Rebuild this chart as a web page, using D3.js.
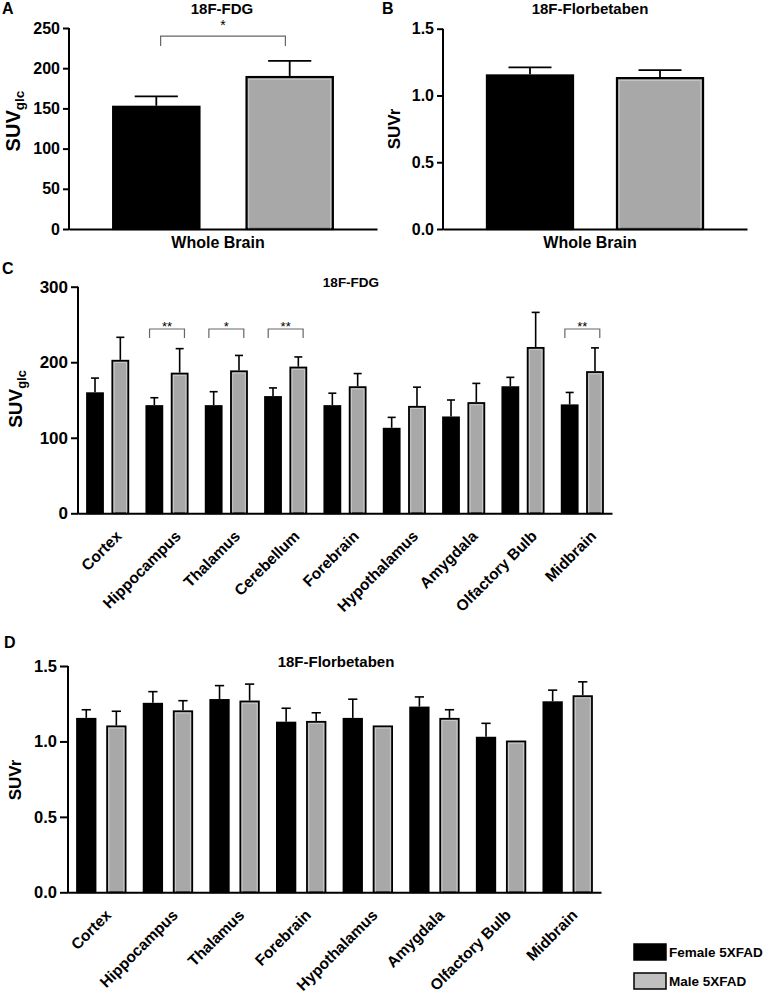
<!DOCTYPE html>
<html>
<head>
<meta charset="utf-8">
<script src="https://cdn.jsdelivr.net/npm/d3@7"></script>
<style>
  body { margin: 0; background: #fff; }
  svg text { font-family: "Liberation Sans", Arial, sans-serif; font-weight: bold; fill: #000; }
</style>
</head>
<body>
<div id="chart"></div>
<script>
// ---- data ----
var series = ["Female 5XFAD", "Male 5XFAD"];

var wholeBrain = ["Whole Brain"];
var fdgWhole = [152, 189];
var fdgWholeErr = [13, 20];
var fbbWhole = [1.15, 1.13];
var fbbWholeErr = [0.06, 0.06];

var regionsC = ["Cortex", "Hippocampus", "Thalamus", "Cerebellum", "Forebrain",
                "Hypothalamus", "Amygdala", "Olfactory Bulb", "Midbrain"];
var fdgFemale    = [159, 142, 142, 154, 142, 112, 127, 167, 143];
var fdgFemaleErr = [20, 11, 19, 12, 17, 15, 23, 13, 17];
var fdgMale      = [202, 185, 188, 193, 167, 141, 146, 219, 187];
var fdgMaleErr   = [31, 33, 21, 14, 18, 26, 26, 47, 32];

var regionsD = ["Cortex", "Hippocampus", "Thalamus", "Forebrain",
                "Hypothalamus", "Amygdala", "Olfactory Bulb", "Midbrain"];
var fbbFemale    = [1.15, 1.25, 1.275, 1.125, 1.15, 1.225, 1.025, 1.26];
var fbbFemaleErr = [0.06, 0.08, 0.095, 0.095, 0.13, 0.07, 0.095, 0.08];
var fbbMale      = [1.10, 1.20, 1.265, 1.13, 1.10, 1.15, 1.00, 1.30];
var fbbMaleErr   = [0.10, 0.07, 0.115, 0.06, 0, 0.06, 0, 0.095];

var ticksFdgA = [0, 50, 100, 150, 200, 250];
var ticksFdgC = [0, 100, 200, 300];
var ticksFbb  = [0, 0.5, 1.0, 1.5];

var sigA = [{group: "Whole Brain", label: "*"}];
var sigC = [{group: "Hippocampus", label: "**"}, {group: "Thalamus", label: "*"},
            {group: "Cerebellum", label: "**"}, {group: "Midbrain", label: "**"}];

var fills = {"Female 5XFAD": "#000", "Male 5XFAD": "#a8a8a8"};

var svg = d3.select("#chart").append("svg")
    .attr("width", 765)
    .attr("height", 998);

function panel(cfg) {
    var g = svg.append("g");

    var x0 = d3.scaleBand().domain(cfg.groups).range([cfg.left, cfg.right]).padding(0);
    var x1 = d3.scaleBand().domain(series).range([0, x0.bandwidth()])
        .paddingInner(cfg.pi).paddingOuter(cfg.po);
    var y = d3.scaleLinear().domain(cfg.domain).range([cfg.bottom, cfg.top]);

    var rows = [];
    cfg.groups.forEach(function(grp, i) {
        rows.push({group: grp, s: series[0], v: cfg.vals[0][i], e: cfg.errs[0][i]});
        rows.push({group: grp, s: series[1], v: cfg.vals[1][i], e: cfg.errs[1][i]});
    });

    // bars
    var bars = g.selectAll(".bar").data(rows).enter().append("g");
    bars.append("rect")
        .attr("x", d => x0(d.group) + x1(d.s))
        .attr("y", d => y(d.v))
        .attr("width", x1.bandwidth())
        .attr("height", d => y(0) - y(d.v))
        .attr("fill", d => fills[d.s])
        .attr("stroke", "#000")
        .attr("stroke-width", cfg.barStroke);
    // light inner edge on the grey bars
    bars.filter(d => d.s == series[1]).append("rect")
        .attr("x", d => x0(d.group) + x1(d.s) + cfg.barStroke)
        .attr("y", d => y(d.v) + cfg.barStroke)
        .attr("width", x1.bandwidth() - 2 * cfg.barStroke)
        .attr("height", d => y(0) - y(d.v) - cfg.barStroke)
        .attr("fill", "none")
        .attr("stroke", "#cfcfcf")
        .attr("stroke-width", 0.8);

    // error bars (upper only)
    var cap = x1.bandwidth() * 0.25;
    var eb = g.selectAll(".err").data(rows.filter(d => d.e > 0)).enter().append("g")
        .attr("stroke", "#000").attr("stroke-width", cfg.errStroke);
    eb.append("line")
        .attr("x1", d => x0(d.group) + x1(d.s) + x1.bandwidth() / 2)
        .attr("x2", d => x0(d.group) + x1(d.s) + x1.bandwidth() / 2)
        .attr("y1", d => y(d.v) - cfg.barStroke / 2)
        .attr("y2", d => y(d.v + d.e));
    eb.append("line")
        .attr("x1", d => x0(d.group) + x1(d.s) + x1.bandwidth() / 2 - cap)
        .attr("x2", d => x0(d.group) + x1(d.s) + x1.bandwidth() / 2 + cap)
        .attr("y1", d => y(d.v + d.e))
        .attr("y2", d => y(d.v + d.e));

    // axes
    var yAxis = d3.axisLeft(y).tickValues(cfg.ticks).tickFormat(d3.format(cfg.fmt))
        .tickSize(cfg.tickLen).tickPadding(3).tickSizeOuter(0);
    var ya = g.append("g").attr("transform", "translate(" + cfg.left + ",0)").call(yAxis);
    ya.select(".domain").attr("stroke-width", 2).attr("d", "M0," + (y(0) + 1) + "V" + y(cfg.domain[1]));
    ya.selectAll(".tick line").attr("stroke-width", 2);
    ya.selectAll(".tick text").style("font-size", cfg.tickFont + "px");

    var xAxis = d3.axisBottom(x0).tickSize(0).tickSizeOuter(0).tickPadding(8);
    var xa = g.append("g").attr("transform", "translate(0," + y(0) + ")").call(xAxis);
    xa.select(".domain").attr("stroke-width", 2);
    var xt = xa.selectAll(".tick text").style("font-size", cfg.catFont + "px");
    if (cfg.rotate) {
        // slanted category names, end of text just right of the group centre
        xt.remove();
        g.selectAll(".cat").data(cfg.groups).enter().append("text")
            .attr("x", d => x0(d) + x0.bandwidth() / 2 + cfg.labDx)
            .attr("y", y(0) + cfg.labDy)
            .attr("transform", d => "rotate(-45 " + (x0(d) + x0.bandwidth() / 2 + cfg.labDx) + " "
                + (y(0) + cfg.labDy) + ")")
            .attr("text-anchor", "end")
            .attr("dy", "0.35em")
            .style("font-size", cfg.catFont + "px")
            .text(d => d);
    } else {
        xt.attr("dx", -5);
    }

    // y label
    var yl = g.append("text")
        .attr("text-anchor", "middle")
        .attr("transform", "translate(" + cfg.yLabX + "," + cfg.yLabY + ") rotate(-90)")
        .attr("dy", "0.35em")
        .style("font-size", cfg.yLabFont + "px");
    yl.append("tspan").text(cfg.yLab);
    if (cfg.yLabSub) {
        yl.append("tspan").text(cfg.yLabSub).attr("dy", "0.3em").style("font-size", "0.68em");
    }

    // title and panel letter
    g.append("text").attr("x", cfg.titleX).attr("y", cfg.titleY)
        .attr("text-anchor", "middle").style("font-size", cfg.titleFont + "px").text(cfg.title);
    g.append("text").attr("x", cfg.letterX).attr("y", cfg.letterY)
        .style("font-size", "16px").text(cfg.letter);

    // significance brackets
    if (cfg.sig) {
        var by = y(cfg.sigLevel);
        var sg = g.selectAll(".sig").data(cfg.sig).enter().append("g");
        sg.append("path")
            .attr("d", function(d) {
                var xa = x0(d.group) + x1(series[0]) + x1.bandwidth() * cfg.sigIn;
                var xb = x0(d.group) + x1(series[1]) + x1.bandwidth() * (1 - cfg.sigIn);
                return "M" + xa + "," + (by + cfg.sigDrop) + "V" + by + "H" + xb + "V" + (by + cfg.sigDrop);
            })
            .attr("fill", "none").attr("stroke", "#666").attr("stroke-width", 1.2);
        sg.append("text")
            .attr("x", function(d) {
                return (x0(d.group) + x1(series[0]) + x0(d.group) + x1(series[1]) + x1.bandwidth()) / 2;
            })
            .attr("y", by + cfg.starDy)
            .attr("text-anchor", "middle")
            .style("font-size", cfg.starFont + "px")
            .style("font-weight", "normal")
            .text(d => d.label);
    }
}

// A
panel({groups: wholeBrain, vals: [[fdgWhole[0]], [fdgWhole[1]]], errs: [[fdgWholeErr[0]], [fdgWholeErr[1]]],
       left: 69, right: 377, top: 28, bottom: 229, domain: [0, 250], ticks: ticksFdgA, fmt: "d",
       pi: 0.353, po: 0.331, barStroke: 2.2, errStroke: 1.8, tickLen: 6, tickFont: 16, catFont: 16,
       yLab: "SUV", yLabSub: "glc", yLabX: 13, yLabY: 121, yLabFont: 20,
       title: "18F-FDG", titleX: 222, titleY: 14, titleFont: 15, letter: "A", letterX: 2, letterY: 14,
       sig: sigA, sigLevel: 240, sigIn: 0.55, sigDrop: 10, starDy: -6, starFont: 14});

// B
panel({groups: wholeBrain, vals: [[fbbWhole[0]], [fbbWhole[1]]], errs: [[fbbWholeErr[0]], [fbbWholeErr[1]]],
       left: 443, right: 747, top: 28.7, bottom: 229, domain: [0, 1.5], ticks: ticksFbb, fmt: ".1f",
       pi: 0.338, po: 0.338, barStroke: 2.2, errStroke: 1.8, tickLen: 6, tickFont: 16, catFont: 16,
       yLab: "SUVr", yLabX: 394, yLabY: 129, yLabFont: 17,
       title: "18F-Florbetaben", titleX: 590, titleY: 14, titleFont: 15, letter: "B", letterX: 382, letterY: 14});

// C
panel({groups: regionsC, vals: [fdgFemale, fdgMale], errs: [fdgFemaleErr, fdgMaleErr],
       left: 78, right: 612, top: 286.7, bottom: 513.3, domain: [0, 300], ticks: ticksFdgC, fmt: "d",
       pi: 0.368, po: 0.356, barStroke: 1.8, errStroke: 1.6, tickLen: 7, tickFont: 17, catFont: 15.5,
       rotate: true, labDx: 11, labDy: 20,
       yLab: "SUV", yLabSub: "glc", yLabX: 15, yLabY: 399, yLabFont: 19,
       title: "18F-FDG", titleX: 351, titleY: 287, titleFont: 13.5, letter: "C", letterX: 2, letterY: 274,
       sig: sigC, sigLevel: 244, sigIn: 0.2, sigDrop: 9, starDy: 2, starFont: 13});

// D
panel({groups: regionsD, vals: [fbbFemale, fbbMale], errs: [fbbFemaleErr, fbbMaleErr],
       left: 68, right: 601, top: 666, bottom: 892.3, domain: [0, 1.5], ticks: ticksFbb, fmt: ".1f",
       pi: 0.385, po: 0.3, barStroke: 1.8, errStroke: 1.6, tickLen: 8, tickFont: 16.5, catFont: 15.5,
       rotate: true, labDx: 7, labDy: 20,
       yLab: "SUVr", yLabX: 15, yLabY: 780, yLabFont: 17,
       title: "18F-Florbetaben", titleX: 336, titleY: 667, titleFont: 15, letter: "D", letterX: 4, letterY: 648});

// legend
var leg = svg.append("g").attr("transform", "translate(634,944)");
var li = leg.selectAll("g").data(series).enter().append("g")
    .attr("transform", (d, i) => "translate(0," + i * 29 + ")");
li.append("rect")
    .attr("width", 32).attr("height", 16)
    .attr("fill", d => d == series[0] ? "#000" : "#c0c0c0")
    .attr("stroke", "#000").attr("stroke-width", 1.5);
li.append("text")
    .attr("x", 35).attr("y", 8).attr("dy", "0.35em")
    .style("font-size", "13.5px")
    .text(d => d);
</script>
</body>
</html>
